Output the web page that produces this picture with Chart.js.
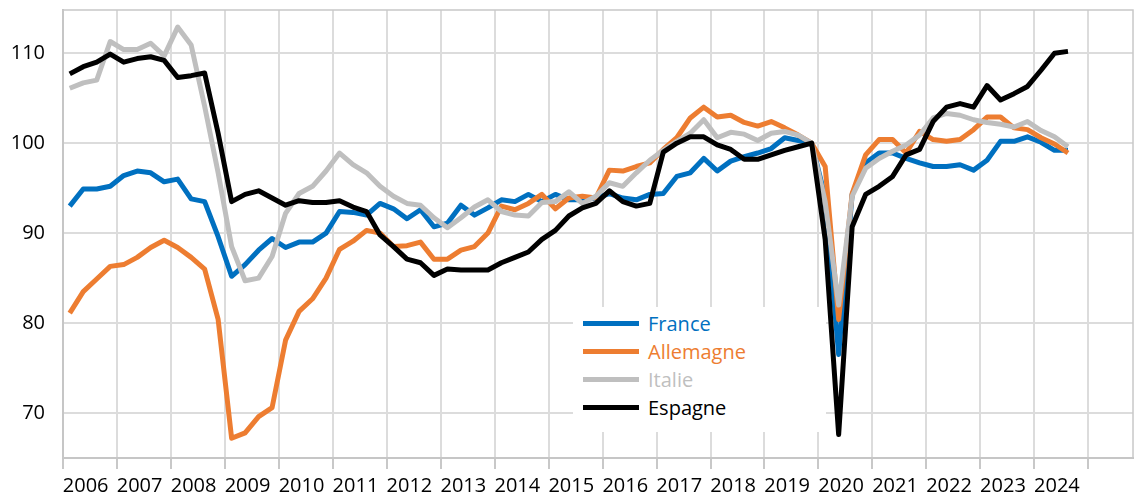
<!DOCTYPE html>
<html lang="fr">
<head>
  <meta charset="UTF-8" />
  <title>France, Allemagne, Italie, Espagne</title>
  <script src="https://cdn.jsdelivr.net/npm/chart.js"></script>
  <style>
    body {
      margin: 0;
      background: #fff;
    }

    .chart-wrap {
      position: relative;
      width: 1134px;
      height: 496px;
    }

    .legend-box {
      position: absolute;
      left: 573px;
      top: 307px;
      width: 253px;
      height: 125px;
      background: #fff;
      font-family: "Open Sans", sans-serif;
      font-size: 20px;
    }

    .legend-row {
      position: absolute;
      left: 10px;
      height: 28px;
      display: flex;
      align-items: center;
    }

    .legend-row span.swatch {
      display: inline-block;
      width: 56px;
      height: 5px;
      margin-right: 9px;
    }
  </style>
</head>
<body>
  <div class="chart-wrap">
    <canvas id="chart"></canvas>
    <div class="legend-box" id="legend"></div>
  </div>

  <script>
    // quarterly series, 2006T1 .. 2024T3 (base 100 = 2019T4)
    const firstYear = 2006;
    const yearLabels = [2006, 2007, 2008, 2009, 2010, 2011, 2012, 2013, 2014, 2015,
                        2016, 2017, 2018, 2019, 2020, 2021, 2022, 2023, 2024];
    const yTicks = [70, 80, 90, 100, 110];

    const france = [
      93.0, 94.9, 94.9, 95.2, 96.4, 96.9, 96.7, 95.7, 96.0, 93.8, 93.5, 89.6,
      85.2, 86.5, 88.1, 89.4, 88.4, 89.0, 89.0, 90.0, 92.4, 92.3, 92.0, 93.3,
      92.7, 91.6, 92.6, 90.7, 91.1, 93.1, 92.0, 92.8, 93.7, 93.5, 94.3, 93.5,
      94.3, 93.7, 93.7, 93.9, 94.4, 93.9, 93.7, 94.3, 94.4, 96.3, 96.7, 98.3,
      96.9, 98.0, 98.5, 98.9, 99.4, 100.6, 100.3, 100.0, 94.0, 76.5, 94.3, 97.8,
      98.9, 98.9, 98.3, 97.8, 97.4, 97.4, 97.6, 97.0, 98.1, 100.2, 100.2, 100.7,
      100.1, 99.2, 99.2
    ];
    const allemagne = [
      81.1, 83.5, 84.9, 86.3, 86.5, 87.3, 88.4, 89.2, 88.4, 87.3, 86.0, 80.4,
      67.2, 67.8, 69.6, 70.6, 78.1, 81.3, 82.7, 85.0, 88.2, 89.1, 90.3, 90.0,
      88.5, 88.6, 89.0, 87.1, 87.1, 88.1, 88.5, 90.0, 93.0, 92.6, 93.3, 94.3,
      92.7, 93.9, 94.1, 93.9, 97.0, 96.9, 97.4, 97.8, 99.3, 100.6, 102.8, 104.0,
      102.9, 103.1, 102.3, 101.9, 102.4, 101.7, 100.9, 100.0, 97.4, 80.4, 94.4, 98.7,
      100.4, 100.4, 98.9, 101.3, 100.4, 100.2, 100.4, 101.5, 102.9, 102.9, 101.7, 101.5,
      100.6, 99.9, 98.9
    ];
    const italie = [
      106.1, 106.7, 107.0, 111.3, 110.4, 110.4, 111.1, 109.7, 112.9, 110.9, 104.1, 96.7,
      88.5, 84.7, 85.0, 87.4, 92.2, 94.4, 95.2, 96.9, 98.9, 97.6, 96.7, 95.2,
      94.1, 93.3, 93.1, 91.7, 90.6, 91.7, 92.9, 93.7, 92.4, 92.0, 91.9, 93.4,
      93.5, 94.6, 93.3, 94.1, 95.6, 95.2, 96.7, 98.1, 99.2, 100.2, 101.1, 102.6,
      100.6, 101.2, 101.0, 100.3, 101.1, 101.3, 100.9, 100.0, 93.5, 82.0, 94.1, 97.2,
      98.3, 99.1, 99.8, 100.9, 102.8, 103.3, 103.1, 102.6, 102.3, 102.1, 101.8, 102.4,
      101.4, 100.7, 99.6
    ];
    const espagne = [
      107.7, 108.5, 109.0, 109.9, 109.0, 109.4, 109.6, 109.2, 107.3, 107.5, 107.8, 101.1,
      93.5, 94.3, 94.7, 93.9, 93.1, 93.6, 93.4, 93.4, 93.6, 92.9, 92.4, 89.8,
      88.5, 87.1, 86.7, 85.3, 86.0, 85.9, 85.9, 85.9, 86.7, 87.3, 87.9, 89.3,
      90.3, 91.9, 92.8, 93.3, 94.7, 93.5, 93.0, 93.3, 99.0, 100.0, 100.7, 100.7,
      99.8, 99.3, 98.2, 98.2, 98.7, 99.2, 99.6, 100.0, 89.3, 67.6, 90.7, 94.3,
      95.2, 96.3, 98.7, 99.3, 102.4, 104.0, 104.4, 104.0, 106.4, 104.8, 105.5, 106.3,
      108.1, 110.0, 110.2
    ];

    const seriesNames = ['France', 'Allemagne', 'Italie', 'Espagne'];
    const seriesColors = ['#0070C0', '#ED7D31', '#BFBFBF', '#000000'];
    const seriesValues = [france, allemagne, italie, espagne];

    // each quarter sits in the middle of its quarter slot on the year axis
    function toPoints(values) {
      return values.map((v, i) => ({ x: firstYear + (i + 0.5) / 4, y: v }));
    }

    const FONT = { family: '"Open Sans", sans-serif', size: 20 };
    const LABEL_POS = 0.42; // year label sits a bit left of the middle of its year

    const plotBorder = {
      id: 'plotBorder',
      beforeDatasetsDraw(chart) {
        const a = chart.chartArea;
        const c = chart.ctx;
        c.save();
        c.strokeStyle = '#c8c8c8';
        c.lineWidth = 1.5;
        c.strokeRect(a.left, a.top, a.right - a.left, a.bottom - a.top);
        c.restore();
      }
    };

    const chart = new Chart(document.getElementById('chart'), {
      type: 'line',
      data: {
        datasets: seriesNames.map((name, k) => ({
          label: name,
          data: toPoints(seriesValues[k]),
          borderColor: seriesColors[k],
          backgroundColor: seriesColors[k],
          borderWidth: 5,
          pointRadius: 0,
          tension: 0,
          fill: false,
          borderJoinStyle: 'round',
          borderCapStyle: 'butt',
          order: seriesNames.length - k
        }))
      },
      options: {
        responsive: true,
        maintainAspectRatio: false,
        animation: false,
        layout: { padding: { left: 0, top: 10, right: 1, bottom: 0 } },
        plugins: {
          legend: { display: false },
          tooltip: { enabled: false }
        },
        scales: {
          x: {
            type: 'linear',
            min: 2006,
            max: 2025.83,
            afterBuildTicks(scale) {
              const t = [];
              for (let y = 2006; y <= 2025; y++) {
                t.push({ value: y });
                if (yearLabels.includes(y)) t.push({ value: y + LABEL_POS });
              }
              scale.ticks = t;
            },
            afterFit(scale) {
              scale.height = 38;
              scale.paddingLeft = 0;
              scale.paddingRight = 0;
            },
            ticks: {
              autoSkip: false,
              maxRotation: 0,
              padding: 5,
              color: '#000',
              font: FONT,
              callback: v => Number.isInteger(v) ? '' : String(Math.floor(v))
            },
            grid: {
              color: c => (c.tick && Number.isInteger(c.tick.value)) ? '#dcdcdc' : 'rgba(0,0,0,0)',
              tickColor: c => (c.tick && Number.isInteger(c.tick.value)) ? '#c8c8c8' : 'rgba(0,0,0,0)',
              lineWidth: 2,
              tickLength: 11
            },
            border: { color: '#c0c0c0', width: 2 }
          },
          y: {
            min: 65,
            max: 114.8,
            afterBuildTicks(scale) {
              scale.ticks = yTicks.map(v => ({ value: v }));
            },
            afterFit(scale) {
              scale.width = 63;
              scale.paddingTop = 0;
              scale.paddingBottom = 0;
            },
            ticks: {
              padding: 18,
              color: '#000',
              font: FONT
            },
            grid: {
              color: '#dcdcdc',
              lineWidth: 2,
              drawTicks: false
            },
            border: { color: '#c0c0c0', width: 2 }
          }
        }
      },
      plugins: [plotBorder]
    });

    // legend drawn from the same names/colours
    const legend = document.getElementById('legend');
    seriesNames.forEach((name, k) => {
      const row = document.createElement('div');
      row.className = 'legend-row';
      row.style.top = (2 + k * 28.3) + 'px';
      row.style.color = seriesColors[k];
      row.innerHTML = '<span class="swatch" style="background:' + seriesColors[k] + '"></span>' + name;
      legend.appendChild(row);
    });
  </script>
</body>
</html>
